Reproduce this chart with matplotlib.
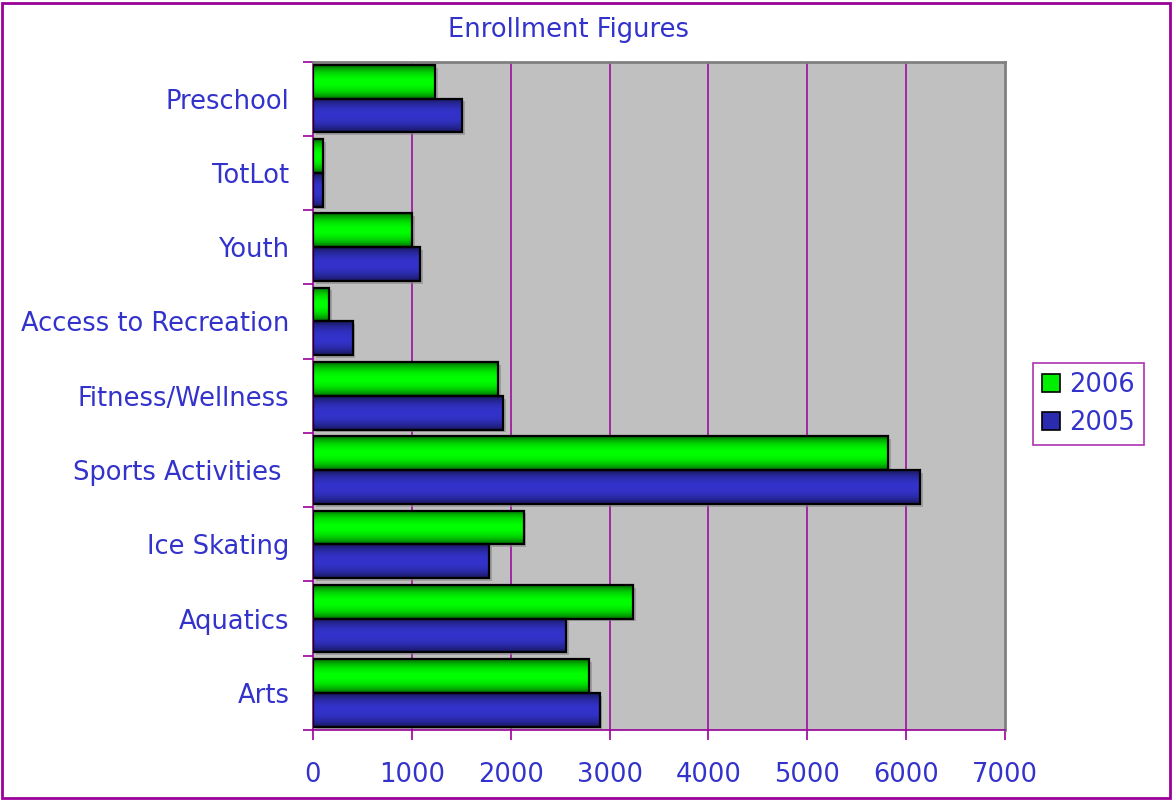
import matplotlib
matplotlib.use('Agg')
import matplotlib.pyplot as plt
import numpy as np
from matplotlib.patches import Rectangle
from matplotlib.colors import LinearSegmentedColormap
import matplotlib.patheffects as pe

# data (bottom to top, as Excel lists them)
categories = ['Arts', 'Aquatics', 'Ice Skating', 'Sports Activities ', 'Fitness/Wellness',
              'Access to Recreation', 'Youth', 'TotLot', 'Preschool']
enroll_2006 = [2790, 3240, 2130, 5820, 1870, 160, 1000, 105, 1235]
enroll_2005 = [2900, 2560, 1780, 6140, 1920, 400, 1080, 105, 1505]
x_ticks = [0, 1000, 2000, 3000, 4000, 5000, 6000, 7000]

TXT = '#3333CC'
PURPLE = '#990099'
FS = 18.5
plt.rcParams['font.family'] = ['DejaVu Sans']

fig = plt.figure(figsize=(11.72, 8), dpi=100)
ax = fig.add_axes([313 / 1172, 70 / 800, 692 / 1172, 668.5 / 800])
ax.set_facecolor('#C0C0C0')

y = np.arange(len(categories))
h = 0.455

green_cm = LinearSegmentedColormap.from_list('g', ['#005A00', '#00FF00'])
blue_cm = LinearSegmentedColormap.from_list('b', ['#15154F', '#3333CC'])
grad = np.sin(np.linspace(0, np.pi, 64)) ** 0.7
grad = grad.reshape(-1, 1)


def gradient_bars(vals, offset, base, cmap):
    bars = ax.barh(y + offset, vals, height=h, color=base, zorder=2,
                   path_effects=[pe.SimplePatchShadow(offset=(2, -2), shadow_rgbFace='#888888', alpha=0.6),
                                 pe.Normal()])
    for b in bars:
        x0, y0 = b.get_xy()
        im = ax.imshow(grad, cmap=cmap, aspect='auto', zorder=3,
                       extent=(x0, x0 + b.get_width(), y0, y0 + b.get_height()),
                       vmin=0, vmax=1, interpolation='bilinear')
        im.set_clip_path(b)
        ax.add_patch(Rectangle((x0, y0), b.get_width(), b.get_height(), fill=False,
                               edgecolor='black', lw=1.6, zorder=4))
    return bars


gradient_bars(enroll_2006, h / 2, '#00DD00', green_cm)
gradient_bars(enroll_2005, -h / 2, '#2A2AAA', blue_cm)

ax.set_xlim(0, 7000)
ax.set_ylim(-0.5, len(categories) - 0.5)

ax.set_xticks(x_ticks)
ax.set_xticklabels([str(v) for v in x_ticks])
ax.set_yticks(y)
ax.set_yticklabels(categories)
ax.set_yticks(np.arange(-0.5, len(categories)), minor=True)
ax.tick_params(axis='y', which='major', length=0, pad=17, labelsize=FS, labelcolor=TXT)
ax.tick_params(axis='y', which='minor', length=7, width=1.2, color=PURPLE, direction='out')
ax.tick_params(axis='x', length=7, width=1.2, color=PURPLE, direction='out', pad=16,
               labelsize=FS, labelcolor=TXT)

for v in x_ticks[1:-1]:
    ax.axvline(v, color=PURPLE, lw=1.1, zorder=1)

for s in ['left', 'bottom']:
    ax.spines[s].set_color(PURPLE)
    ax.spines[s].set_linewidth(1.2)
for s in ['top', 'right']:
    ax.spines[s].set_color('#808080')
    ax.spines[s].set_linewidth(2)

fig.text(568 / 1172, 1 - 30 / 800, 'Enrollment Figures', ha='center', va='center',
         fontsize=FS, color=TXT)

handles = [Rectangle((0, 0), 1, 1, facecolor='#00EE00', edgecolor='black', lw=1.2),
           Rectangle((0, 0), 1, 1, facecolor='#2B2BB0', edgecolor='black', lw=1.2)]
leg = fig.legend(handles, ['2006', '2005'], loc='center', bbox_to_anchor=(1088.5 / 1172, 1 - 404 / 800),
                 fontsize=FS, frameon=True, fancybox=False, handlelength=0.7, handleheight=0.7,
                 handletextpad=0.35, labelspacing=0.45, borderpad=0.35, borderaxespad=0)
leg.get_frame().set_edgecolor(PURPLE)
leg.get_frame().set_linewidth(1.2)
for t in leg.get_texts():
    t.set_color(TXT)

fig.add_artist(Rectangle((2 / 1172, 2 / 800), 1168 / 1172, 795 / 800, transform=fig.transFigure,
                         fill=False, edgecolor=PURPLE, lw=2))

fig.savefig('out.png', dpi=100)
